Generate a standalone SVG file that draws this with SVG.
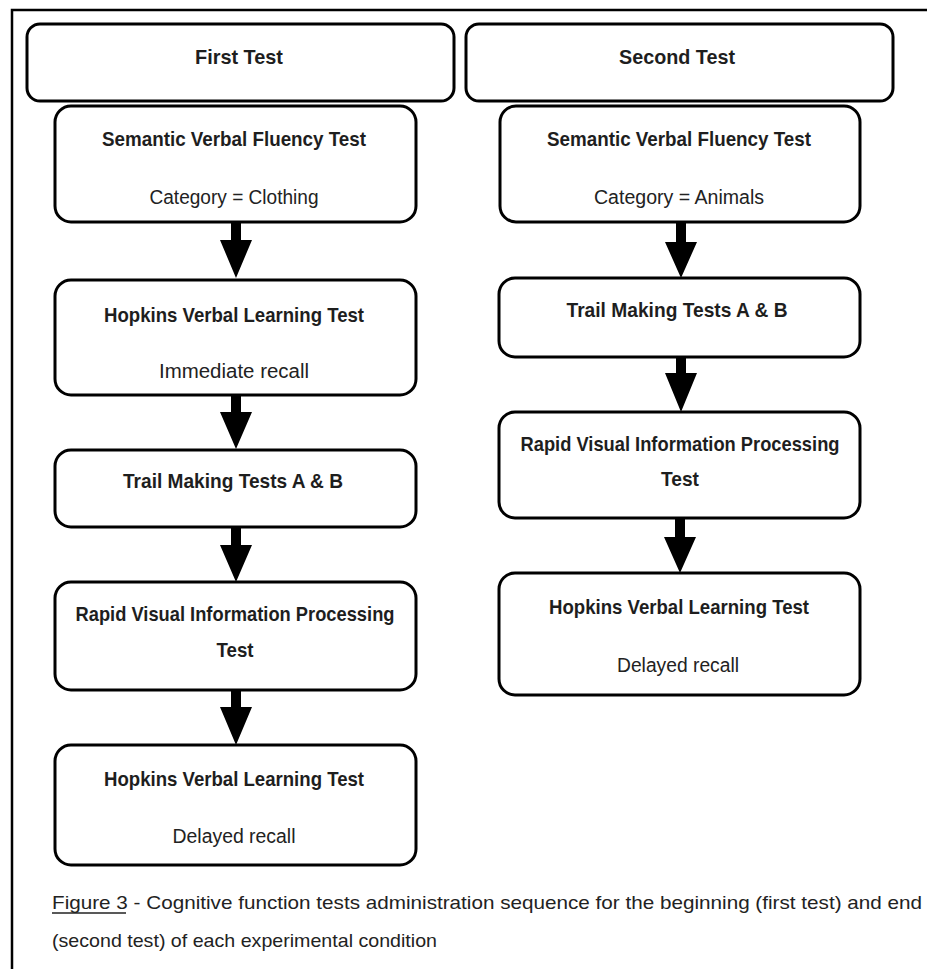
<svg xmlns="http://www.w3.org/2000/svg" width="927" height="969" viewBox="0 0 927 969">
  <defs>
    <style>
      .box { fill: #ffffff; stroke: #000000; stroke-width: 3; }
      .title { font-family: "Liberation Sans", "Open Sans", sans-serif; font-weight: bold; font-size: 21px; fill: #1e1e1e; text-anchor: middle; }
      .sub { font-family: "Liberation Sans", "Open Sans", sans-serif; font-size: 20px; fill: #222222; text-anchor: middle; }
      .cap { font-family: "Liberation Sans", "Open Sans", sans-serif; font-size: 19px; fill: #222222; }
      .arrow { fill: #000000; }
      .frame { fill: none; stroke: #000000; stroke-width: 2.5; }
    </style>
  </defs>

  <rect x="0" y="0" width="927" height="969" fill="#ffffff"/>
  <path class="frame" d="M12,969 V10 H927"/>

  <!-- left column: first test -->
  <g id="first-test">
    <rect class="box" x="27" y="24" width="427" height="77" rx="13"/>
    <text class="title" x="239" y="64" textLength="88" lengthAdjust="spacingAndGlyphs">First Test</text>
  </g>
  <g id="first-svf">
    <rect class="box" x="55" y="106" width="361" height="116" rx="16"/>
    <text class="title" x="234" y="146" textLength="264" lengthAdjust="spacingAndGlyphs">Semantic Verbal Fluency Test</text>
    <text class="sub" x="234" y="204" textLength="169" lengthAdjust="spacingAndGlyphs">Category = Clothing</text>
  </g>
  <g id="first-hvlt-immediate">
    <rect class="box" x="55" y="280" width="361" height="115" rx="16"/>
    <text class="title" x="234" y="322" textLength="260" lengthAdjust="spacingAndGlyphs">Hopkins Verbal Learning Test</text>
    <text class="sub" x="234" y="378" textLength="150" lengthAdjust="spacingAndGlyphs">Immediate recall</text>
  </g>
  <g id="first-tmt">
    <rect class="box" x="55" y="450" width="361" height="77" rx="16"/>
    <text class="title" x="233" y="488" textLength="220" lengthAdjust="spacingAndGlyphs">Trail Making Tests A &amp; B</text>
  </g>
  <g id="first-rvip">
    <rect class="box" x="55" y="582" width="361" height="108" rx="16"/>
    <text class="title" x="235" y="621" textLength="319" lengthAdjust="spacingAndGlyphs">Rapid Visual Information Processing</text>
    <text class="title" x="235" y="657" textLength="37" lengthAdjust="spacingAndGlyphs">Test</text>
  </g>
  <g id="first-hvlt-delayed">
    <rect class="box" x="55" y="745" width="361" height="120" rx="16"/>
    <text class="title" x="234" y="786" textLength="260" lengthAdjust="spacingAndGlyphs">Hopkins Verbal Learning Test</text>
    <text class="sub" x="234" y="843" textLength="123" lengthAdjust="spacingAndGlyphs">Delayed recall</text>
  </g>

  <!-- right column: second test -->
  <g id="second-test">
    <rect class="box" x="466" y="24" width="427" height="77" rx="13"/>
    <text class="title" x="677" y="64" textLength="116" lengthAdjust="spacingAndGlyphs">Second Test</text>
  </g>
  <g id="second-svf">
    <rect class="box" x="500" y="106" width="360" height="116" rx="16"/>
    <text class="title" x="679" y="146" textLength="264" lengthAdjust="spacingAndGlyphs">Semantic Verbal Fluency Test</text>
    <text class="sub" x="679" y="204" textLength="170" lengthAdjust="spacingAndGlyphs">Category = Animals</text>
  </g>
  <g id="second-tmt">
    <rect class="box" x="499" y="278" width="361" height="79" rx="16"/>
    <text class="title" x="677" y="317" textLength="221" lengthAdjust="spacingAndGlyphs">Trail Making Tests A &amp; B</text>
  </g>
  <g id="second-rvip">
    <rect class="box" x="499" y="412" width="361" height="106" rx="16"/>
    <text class="title" x="680" y="451" textLength="319" lengthAdjust="spacingAndGlyphs">Rapid Visual Information Processing</text>
    <text class="title" x="680" y="486" textLength="38" lengthAdjust="spacingAndGlyphs">Test</text>
  </g>
  <g id="second-hvlt-delayed">
    <rect class="box" x="499" y="573" width="361" height="122" rx="16"/>
    <text class="title" x="679" y="614" textLength="260" lengthAdjust="spacingAndGlyphs">Hopkins Verbal Learning Test</text>
    <text class="sub" x="678" y="672" textLength="122" lengthAdjust="spacingAndGlyphs">Delayed recall</text>
  </g>

  <!-- block arrows between steps -->
  <g id="connectors">
    <path class="arrow" d="M231,222 H241 V240 H252 L236,278 L220,240 H231 Z"/>
    <path class="arrow" d="M231,395 H241 V412 H252 L236,449 L220,412 H231 Z"/>
    <path class="arrow" d="M231,527 H241 V545 H252 L236,582 L220,545 H231 Z"/>
    <path class="arrow" d="M231,690 H241 V707 H252 L236,745 L220,707 H231 Z"/>
    <path class="arrow" d="M676,222 H686 V242 H697 L681,278 L665,242 H676 Z"/>
    <path class="arrow" d="M676,357 H686 V373 H697 L681,412 L665,373 H676 Z"/>
    <path class="arrow" d="M675,518 H685 V537 H696 L680,573 L664,537 H675 Z"/>
  </g>

  <!-- caption -->
  <g id="caption">
    <text class="cap" x="52" y="909" textLength="870" lengthAdjust="spacingAndGlyphs">Figure 3 - Cognitive function tests administration sequence for the beginning (first test) and end</text>
    <line x1="52" y1="913" x2="126" y2="913" stroke="#222222" stroke-width="1.3"/>
    <text class="cap" x="52" y="947" textLength="385" lengthAdjust="spacingAndGlyphs">(second test) of each experimental condition</text>
  </g>
</svg>
